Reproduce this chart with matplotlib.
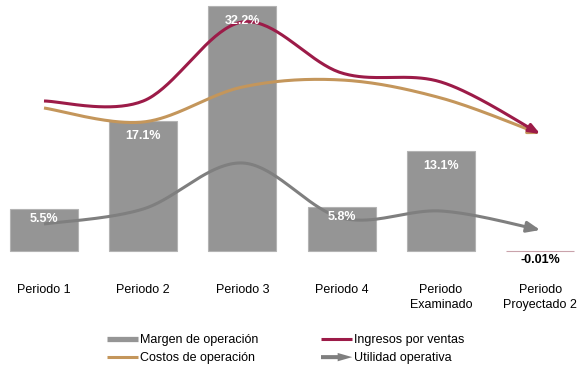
import numpy as np
import matplotlib
matplotlib.use("Agg")
import matplotlib.pyplot as plt
from matplotlib.lines import Line2D
from matplotlib.patches import FancyArrowPatch, FancyArrow
from matplotlib.legend_handler import HandlerBase

plt.rcParams['font.family'] = ['Liberation Sans', 'DejaVu Sans']

# ---- data ----
categories = ["Periodo 1", "Periodo 2", "Periodo 3", "Periodo 4",
              "Periodo\nExaminado", "Periodo\nProyectado 2"]
margen = [5.5, 17.1, 32.2, 5.8, 13.1, -0.01]
margen_labels = ["5.5%", "17.1%", "32.2%", "5.8%", "13.1%", "-0.01%"]
ingresos = [150, 150, 229, 178, 169, 117]
costos = [143, 129, 164, 171, 153, 117]
utilidad = [27, 42, 88, 33, 40, 21]

BAR = "#959595"
BAR_EDGE = "#b3b3b3"
RED = "#9c1b48"
TAN = "#c4965b"
GRAY = "#7f7f7f"

W, H = 584, 369
fig = plt.figure(figsize=(W / 100, H / 100), dpi=100)
base_px = 251
ax = fig.add_axes([0, (H - base_px) / H, 1, base_px / H])
ax.set_xlim(-0.4433, 5.441)
ax.set_ylim(0, base_px / 7.6)
x = np.arange(len(categories))

bars = ax.bar(x, margen, width=0.685, color=BAR, edgecolor=BAR_EDGE, linewidth=0.8,
              zorder=1, clip_on=False)
bars[-1].set_edgecolor("#c9a3ab")
bars[-1].set_facecolor("#c9a3ab")

ax.set_xticks(x)
ax.set_xticklabels(categories, fontsize=9, linespacing=1.3)
ax.tick_params(axis="x", length=0, pad=24)
ax.set_yticks([])
for s in ax.spines.values():
    s.set_visible(False)

ax2 = ax.twinx()
ax2.set_ylim(0, base_px)
ax2.set_yticks([])
for s in ax2.spines.values():
    s.set_visible(False)


def smooth(xs, ys, xscale=99.25, n=40):
    P = np.column_stack([np.asarray(xs, float) * xscale, np.asarray(ys, float)])
    m = len(P)
    out = []
    for i in range(m - 1):
        p0 = P[i - 1] if i > 0 else P[i]
        p1, p2 = P[i], P[i + 1]
        p3 = P[i + 2] if i + 2 < m else P[i + 1]
        c1 = p1 + (p2 - p0) / 6
        c2 = p2 - (p3 - p1) / 6
        t = np.linspace(0, 1, n, endpoint=(i == m - 2))[:, None]
        seg = (1 - t) ** 3 * p1 + 3 * (1 - t) ** 2 * t * c1 + 3 * (1 - t) * t ** 2 * c2 + t ** 3 * p2
        out.append(seg)
    c = np.vstack(out)
    c[:, 0] /= xscale
    return c


def arrow_line(axis, ys, color, lw, hl, hw, z):
    c = smooth(x, ys)
    disp = axis.transData.transform(c)
    end = disp[-1]
    d = np.hypot(*(disp - end).T)
    idx = np.where(d >= hl * 0.9)[0][-1]
    axis.plot(c[:idx + 1, 0], c[:idx + 1, 1], color=color, lw=lw,
              solid_capstyle="butt", zorder=z)
    arr = FancyArrowPatch(tuple(c[idx]), tuple(c[-1]),
                          arrowstyle=f"-|>,head_length={hl * 0.72},head_width={hw * 0.72}",
                          mutation_scale=1, color=color, lw=lw, shrinkA=0, shrinkB=0,
                          zorder=z)
    axis.add_patch(arr)


arrow_line(ax2, utilidad, GRAY, 2.2, 11, 4.5, 3)
arrow_line(ax2, costos, TAN, 2.2, 9, 3.5, 3)
arrow_line(ax2, ingresos, RED, 2.2, 9, 3.5, 4)

# bar labels drawn on top of the lines
for xi, v, lab in zip(x, margen, margen_labels):
    if v > 0:
        hpx = v * 7.6
        off = -min(15, hpx * 0.23) * 0.72
        ax2.annotate(lab, (xi, v), xycoords=ax.transData, xytext=(0, off),
                     textcoords="offset points", ha="center", va="center",
                     color="white", fontsize=9, fontweight="bold", zorder=10)
    else:
        ax2.annotate(lab, (xi, 0), xycoords=ax.transData, xytext=(0, -2),
                     textcoords="offset points", ha="center", va="top",
                     color="black", fontsize=9, fontweight="bold", zorder=10,
                     annotation_clip=False)


class ArrowHandle:
    pass


class HandlerArrow(HandlerBase):
    def create_artists(self, legend, orig_handle, xdescent, ydescent, width, height,
                       fontsize, trans):
        y = height / 2 - ydescent
        a = FancyArrow(-xdescent, y, width, 0, width=2.9, head_width=6.0,
                       head_length=10.5, length_includes_head=True,
                       color=GRAY, transform=trans, lw=0)
        return [a]


h_margen = Line2D([], [], color=BAR, lw=3.8, solid_capstyle="butt")
h_costos = Line2D([], [], color=TAN, lw=2.2, solid_capstyle="butt")
h_ingresos = Line2D([], [], color=RED, lw=2.2, solid_capstyle="butt")
h_util = ArrowHandle()

leg = fig.legend([h_margen, h_costos, h_ingresos, h_util],
                 ["Margen de operación", "Costos de operación",
                  "Ingresos por ventas", "Utilidad operativa"],
                 handler_map={ArrowHandle: HandlerArrow()},
                 loc="upper left", bbox_to_anchor=(107 / W, 1 - 334 / H),
                 ncol=2, frameon=False, fontsize=9, borderpad=0, borderaxespad=0,
                 handlelength=2.5, handletextpad=0.15, columnspacing=5.0,
                 labelspacing=0.52)

fig.savefig("out.png", dpi=100)
